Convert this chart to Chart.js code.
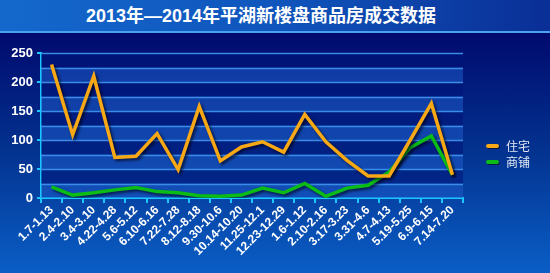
<!DOCTYPE html>
<html>
<head>
<meta charset="utf-8">
<script src="https://cdn.jsdelivr.net/npm/chart.js@4"></script>
<style>
  html, body { margin: 0; padding: 0; }
  body {
    width: 550px; height: 273px; overflow: hidden; position: relative;
    background: linear-gradient(to bottom, #000768 0px, #000a6e 33px, #03328f 150px, #0a5ec6 273px);
  }
  #title-bar {
    position: absolute; left: 0; top: 0; width: 550px; height: 31px;
    background: linear-gradient(to right, #1468cc 0%, #0f55bc 50%, #0a2f96 100%);
    border-bottom: 2px solid #4aa2f0;
  }
  #title-bar h1 {
    margin: 0; padding-left: 0; width: 522px; text-align: center;
    font: bold 18px "Liberation Sans", "Noto Sans CJK SC", sans-serif;
    color: #fff; line-height: 32px;
  }
  #chart-wrap { position: absolute; left: 0; top: 0; width: 550px; height: 273px; }
</style>
</head>
<body>
<div id="title-bar"><h1>2013年—2014年平湖新楼盘商品房成交数据</h1></div>
<div id="chart-wrap"><canvas id="tradeChart" width="550" height="273"></canvas></div>
<script>
const weeks = ['1.7-1.13', '2.4-2.10', '3.4-3.10', '4.22-4.28', '5.6-5.12', '6.10-6.16', '7.22-7.28',
    '8.12-8.18', '9.30-10.6', '10.14-10.20', '11.25-12.1', '12.23-12.29', '1.6-1.12', '2.10-2.16',
    '3.17-3.23', '3.31-4.6', '4.7-4.13', '5.19-5.25', '6.9-6.15', '7.14-7.20'];
const housing = [230, 109, 210, 70, 72, 111, 49, 158, 64, 88, 97, 79, 144, 97, 65, 38, 38, 100, 163, 40];
const shops = [19, 5, 9, 14, 18, 11, 9, 4, 3, 5, 17, 9, 25, 3, 17, 22, 45, 87, 107, 40];
const seriesNames = ['住宅', '商铺'];
const yTicks = [0, 50, 100, 150, 200, 250];

const axisColor = '#19c6ff';
const gridColor = '#3a8ce6';

// alternating bands behind the plot, one per 25 units
const bandsPlugin = {
    id: 'bands',
    beforeDatasetsDraw(chart) {
        const { ctx, chartArea, scales: { y } } = chart;
        ctx.save();
        for (let v = 0; v < 250; v += 25) {
            const top = y.getPixelForValue(v + 25);
            const bottom = y.getPixelForValue(v);
            ctx.fillStyle = (v / 25) % 2 === 0 ? 'rgba(30, 90, 200, 0.55)' : 'rgba(0, 20, 120, 0.55)';
            ctx.fillRect(chartArea.left, top, chartArea.right - chartArea.left, bottom - top);
        }
        // gridlines over the bands
        ctx.strokeStyle = gridColor;
        ctx.lineWidth = 1.5;
        for (let v = 25; v <= 250; v += 25) {
            const py = Math.round(y.getPixelForValue(v)) + 0.5;
            ctx.beginPath();
            ctx.moveTo(chartArea.left, py);
            ctx.lineTo(chartArea.right, py);
            ctx.stroke();
        }
        ctx.restore();
    }
};

const shadowPlugin = {
    id: 'lineShadow',
    beforeDatasetDraw(chart) {
        const ctx = chart.ctx;
        ctx.save();
        ctx.shadowColor = 'rgba(0, 0, 20, 0.7)';
        ctx.shadowBlur = 3;
        ctx.shadowOffsetX = 2;
        ctx.shadowOffsetY = 2;
    },
    afterDatasetDraw(chart) {
        chart.ctx.restore();
    }
};

const legendPlugin = {
    id: 'sideLegend',
    afterDraw(chart) {
        const ctx = chart.ctx;
        ctx.save();
        chart.data.datasets.forEach((ds, i) => {
            const cy = 146 + i * 16;
            ctx.shadowColor = 'rgba(0, 0, 20, 0.6)';
            ctx.shadowOffsetX = 1;
            ctx.shadowOffsetY = 1;
            ctx.strokeStyle = ds.borderColor;
            ctx.lineWidth = 4;
            ctx.lineCap = 'round';
            ctx.beginPath();
            ctx.moveTo(488, cy);
            ctx.lineTo(497, cy);
            ctx.stroke();
            ctx.shadowColor = 'transparent';
            ctx.fillStyle = '#e4e8f4';
            ctx.font = '12px "Noto Sans CJK SC", sans-serif';
            ctx.textBaseline = 'middle';
            ctx.fillText(ds.label, 506, cy);
        });
        ctx.restore();
    }
};

const ctx = document.getElementById('tradeChart').getContext('2d');
new Chart(ctx, {
    type: 'line',
    data: {
        labels: weeks,
        datasets: [
            { label: seriesNames[0], data: housing, borderColor: '#f7a814', borderWidth: 3.5, pointRadius: 0, tension: 0, borderJoinStyle: 'miter' },
            { label: seriesNames[1], data: shops, borderColor: '#0bbb16', borderWidth: 3.5, pointRadius: 0, tension: 0, borderJoinStyle: 'miter' }
        ]
    },
    options: {
        responsive: false,
        animation: false,
        layout: { padding: { left: 0, right: 87, top: 53, bottom: 0 } },
        plugins: {
            legend: { display: false },
            tooltip: { enabled: false }
        },
        scales: {
            x: {
                offset: true,
                grid: { display: true, offset: true, drawOnChartArea: false, color: axisColor, lineWidth: 2, tickLength: 5 },
                border: { color: axisColor, width: 2 },
                ticks: {
                    color: '#ffffff', font: { family: 'Liberation Sans', weight: 'bold', size: 12 },
                    maxRotation: 45, minRotation: 45, autoSkip: false, padding: 0
                },
                afterFit: (scale) => { scale.height = 75; }
            },
            y: {
                min: 0, max: 250,
                afterBuildTicks: (scale) => { scale.ticks = yTicks.map(v => ({ value: v })); },
                grid: { display: true, drawOnChartArea: false, color: axisColor, lineWidth: 2, tickLength: 4 },
                border: { color: axisColor, width: 2 },
                ticks: {
                    color: '#ffffff', font: { family: 'Liberation Sans', weight: 'bold', size: 13 }, padding: 4
                },
                afterFit: (scale) => { scale.width = 41; }
            }
        }
    },
    plugins: [bandsPlugin, shadowPlugin, legendPlugin]
});
</script>
</body>
</html>
